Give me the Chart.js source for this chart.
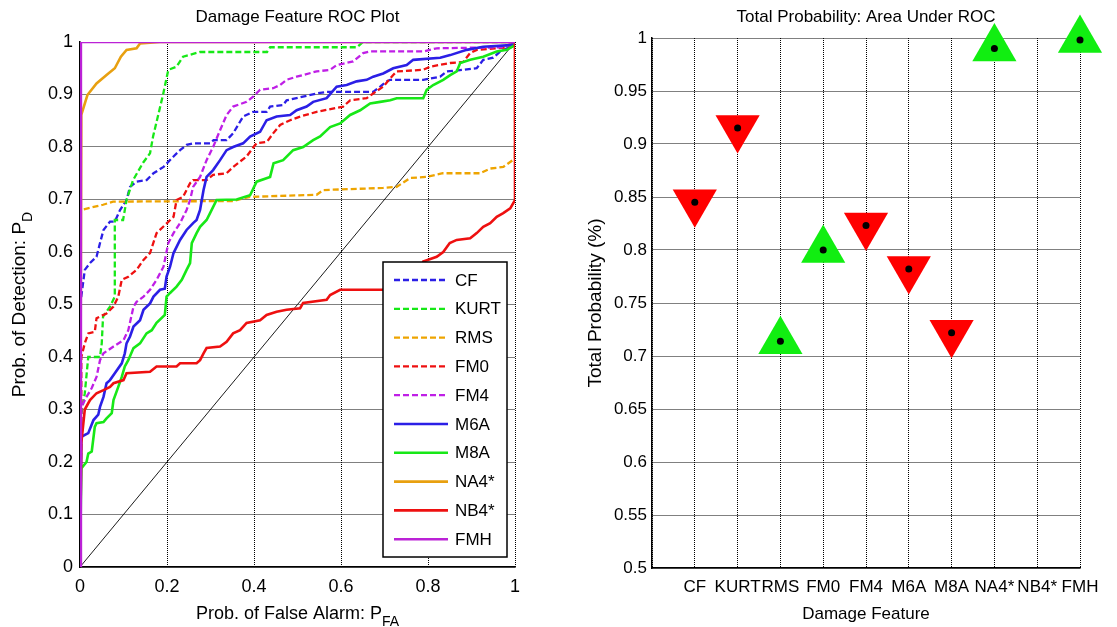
<!DOCTYPE html>
<html>
<head>
<meta charset="utf-8">
<script src="https://cdn.jsdelivr.net/npm/chart.js@4.4.0/dist/chart.umd.min.js"></script>
<style>
  html, body { margin: 0; padding: 0; background: #fff; }
  #wrap { position: relative; width: 1117px; height: 627px; overflow: hidden; }
  #rocChart { position: absolute; left: 0; top: 0; }
  #aucChart { position: absolute; left: 560px; top: 0; }
</style>
</head>
<body>
<div id="wrap">
  <canvas id="rocChart" width="560" height="627"></canvas>
  <canvas id="aucChart" width="557" height="627"></canvas>
</div>
<script>
const FONT = '"Liberation Sans", Arial, sans-serif';

// ---- ROC curves (false alarm, detection) ----
const rocNames = ['CF', 'KURT', 'RMS', 'FM0', 'FM4', 'M6A', 'M8A', 'NA4*', 'NB4*', 'FMH'];

const cfRoc = [[0,0],[0,0.496],[0.011,0.566],[0.023,0.579],[0.038,0.591],[0.046,0.617],[0.054,0.642],[0.069,0.658],[0.08,0.658],[0.092,0.68],[0.107,0.699],[0.115,0.724],[0.13,0.734],[0.153,0.737],[0.169,0.75],[0.192,0.762],[0.215,0.782],[0.23,0.794],[0.245,0.804],[0.26,0.807],[0.299,0.807],[0.307,0.813],[0.337,0.813],[0.352,0.826],[0.375,0.858],[0.398,0.867],[0.429,0.867],[0.437,0.877],[0.467,0.88],[0.475,0.889],[0.544,0.902],[0.567,0.905],[0.674,0.905],[0.69,0.915],[0.705,0.925],[0.713,0.928],[0.789,0.928],[0.828,0.934],[0.843,0.944],[0.881,0.947],[0.912,0.95],[0.927,0.966],[0.95,0.97],[0.966,0.982],[0.989,0.991],[1,1]];
const kurtRoc = [[0,0],[0.003,0.29],[0.011,0.331],[0.019,0.4],[0.046,0.4],[0.05,0.426],[0.053,0.477],[0.069,0.496],[0.08,0.515],[0.08,0.661],[0.099,0.661],[0.107,0.699],[0.122,0.737],[0.145,0.77],[0.161,0.788],[0.168,0.82],[0.191,0.9],[0.203,0.947],[0.222,0.953],[0.237,0.972],[0.276,0.981],[0.43,0.981],[0.437,0.99],[0.637,0.99],[0.65,1],[1,1]];
const rmsRoc = [[0,0],[0.002,0.68],[0.053,0.69],[0.076,0.696],[0.35,0.697],[0.391,0.705],[0.544,0.709],[0.559,0.718],[0.697,0.722],[0.728,0.724],[0.759,0.741],[0.797,0.743],[0.834,0.75],[0.92,0.75],[0.943,0.759],[0.973,0.762],[0.995,0.775],[1,0.78],[1,1]];
const fm0Roc = [[0,0],[0.003,0.33],[0.003,0.4],[0.011,0.426],[0.019,0.445],[0.034,0.448],[0.038,0.474],[0.061,0.483],[0.077,0.496],[0.088,0.515],[0.096,0.547],[0.111,0.553],[0.13,0.566],[0.146,0.585],[0.161,0.598],[0.176,0.636],[0.2,0.655],[0.215,0.667],[0.222,0.699],[0.237,0.705],[0.253,0.731],[0.26,0.737],[0.291,0.737],[0.306,0.747],[0.337,0.75],[0.352,0.762],[0.383,0.782],[0.399,0.8],[0.406,0.807],[0.43,0.81],[0.444,0.826],[0.46,0.842],[0.483,0.851],[0.506,0.858],[0.544,0.867],[0.605,0.877],[0.621,0.889],[0.659,0.893],[0.674,0.902],[0.697,0.915],[0.72,0.937],[0.728,0.944],[0.789,0.947],[0.805,0.953],[0.851,0.96],[0.881,0.962],[0.897,0.979],[0.912,0.985],[0.99,0.99],[1,1]];
const fm4Roc = [[0,0],[0.003,0.28],[0.003,0.305],[0.015,0.324],[0.027,0.341],[0.038,0.362],[0.046,0.394],[0.054,0.407],[0.077,0.42],[0.1,0.432],[0.111,0.451],[0.123,0.496],[0.13,0.505],[0.146,0.515],[0.161,0.528],[0.176,0.547],[0.192,0.572],[0.203,0.617],[0.215,0.636],[0.23,0.655],[0.245,0.68],[0.253,0.699],[0.26,0.724],[0.276,0.743],[0.291,0.775],[0.306,0.8],[0.322,0.832],[0.337,0.861],[0.352,0.877],[0.383,0.886],[0.398,0.896],[0.414,0.909],[0.444,0.912],[0.46,0.918],[0.475,0.928],[0.498,0.934],[0.544,0.944],[0.575,0.947],[0.59,0.956],[0.628,0.963],[0.651,0.979],[0.667,0.982],[0.789,0.982],[0.82,0.988],[0.97,0.99],[1,1]];
const m6aRoc = [[0,0],[0.003,0.248],[0.019,0.255],[0.031,0.28],[0.042,0.29],[0.046,0.305],[0.054,0.324],[0.061,0.35],[0.069,0.356],[0.08,0.369],[0.096,0.388],[0.103,0.407],[0.107,0.426],[0.115,0.439],[0.123,0.458],[0.138,0.47],[0.146,0.49],[0.161,0.502],[0.169,0.515],[0.184,0.528],[0.195,0.53],[0.199,0.553],[0.207,0.572],[0.215,0.598],[0.23,0.623],[0.245,0.642],[0.26,0.655],[0.268,0.661],[0.276,0.68],[0.28,0.699],[0.284,0.718],[0.291,0.743],[0.306,0.756],[0.322,0.775],[0.337,0.794],[0.352,0.8],[0.375,0.807],[0.391,0.82],[0.414,0.829],[0.429,0.851],[0.452,0.858],[0.483,0.861],[0.498,0.87],[0.521,0.877],[0.536,0.886],[0.567,0.893],[0.59,0.915],[0.613,0.918],[0.636,0.925],[0.659,0.928],[0.674,0.934],[0.697,0.94],[0.72,0.95],[0.751,0.956],[0.766,0.966],[0.828,0.97],[0.851,0.975],[0.889,0.985],[0.927,0.991],[0.99,0.994],[1,1]];
const m8aRoc = [[0,0],[0.003,0.188],[0.015,0.2],[0.019,0.216],[0.027,0.22],[0.034,0.267],[0.038,0.274],[0.054,0.276],[0.061,0.283],[0.073,0.293],[0.077,0.318],[0.088,0.343],[0.096,0.362],[0.103,0.382],[0.111,0.394],[0.123,0.417],[0.138,0.426],[0.153,0.445],[0.165,0.451],[0.176,0.465],[0.195,0.48],[0.199,0.515],[0.207,0.522],[0.222,0.534],[0.234,0.547],[0.245,0.566],[0.253,0.579],[0.257,0.617],[0.268,0.636],[0.276,0.648],[0.291,0.661],[0.299,0.674],[0.314,0.699],[0.36,0.7],[0.391,0.708],[0.406,0.734],[0.437,0.743],[0.445,0.769],[0.467,0.775],[0.49,0.794],[0.513,0.8],[0.536,0.813],[0.552,0.82],[0.575,0.838],[0.598,0.845],[0.621,0.861],[0.644,0.87],[0.667,0.883],[0.69,0.886],[0.713,0.889],[0.728,0.893],[0.789,0.893],[0.797,0.909],[0.812,0.918],[0.835,0.928],[0.851,0.937],[0.866,0.944],[0.874,0.96],[0.897,0.966],[0.927,0.972],[0.958,0.982],[0.981,0.985],[1,0.994],[1,1]];
const na4Roc = [[0,0],[0.003,0.861],[0.017,0.899],[0.038,0.921],[0.061,0.937],[0.08,0.95],[0.094,0.972],[0.107,0.985],[0.13,0.988],[0.138,0.997],[0.184,1],[1,1]];
const nb4Roc = [[0,0],[0.003,0.236],[0.011,0.3],[0.023,0.318],[0.038,0.331],[0.054,0.337],[0.069,0.343],[0.077,0.35],[0.1,0.356],[0.107,0.369],[0.161,0.372],[0.176,0.382],[0.222,0.382],[0.23,0.388],[0.268,0.388],[0.276,0.394],[0.284,0.407],[0.291,0.417],[0.322,0.42],[0.337,0.429],[0.352,0.445],[0.368,0.451],[0.383,0.465],[0.414,0.47],[0.429,0.48],[0.452,0.486],[0.475,0.49],[0.506,0.493],[0.513,0.503],[0.567,0.509],[0.575,0.518],[0.598,0.528],[0.77,0.528],[0.789,0.582],[0.82,0.591],[0.835,0.6],[0.85,0.617],[0.866,0.623],[0.897,0.626],[0.912,0.636],[0.927,0.648],[0.943,0.655],[0.958,0.667],[0.973,0.674],[0.989,0.683],[1,0.699],[1,1]];
const fmhRoc = [[0,0],[0.002,0],[0.002,1],[1,1]];
const chanceLine = [[0,0],[1,1]];

const rocCurves = [cfRoc, kurtRoc, rmsRoc, fm0Roc, fm4Roc, m6aRoc, m8aRoc, na4Roc, nb4Roc, fmhRoc];
const rocColors = ['#2b1fe6', '#17e817', '#eea400', '#ee1010', '#bf1fe6', '#2b1fe6', '#17e817', '#e8a010', '#ee1010', '#bb22d6'];
const rocDashed = [true, true, true, true, true, false, false, false, false, false];

const rocTicksX = [0, 0.2, 0.4, 0.6, 0.8, 1];
const rocTicksY = [0, 0.1, 0.2, 0.3, 0.4, 0.5, 0.6, 0.7, 0.8, 0.9, 1];

// ---- area under ROC per feature (right plot) ----
const featureNames = ['CF', 'KURT', 'RMS', 'FM0', 'FM4', 'M6A', 'M8A', 'NA4*', 'NB4*', 'FMH'];
const aucValues = [0.845, 0.915, 0.714, 0.8, 0.823, 0.782, 0.722, 0.99, null, 0.998];
const aucMarker = ['down', 'down', 'up', 'up', 'down', 'down', 'down', 'up', null, 'up'];
const aucTicksY = [0.5, 0.55, 0.6, 0.65, 0.7, 0.75, 0.8, 0.85, 0.9, 0.95, 1];

function toPoints(pairs) {
  return pairs.map(p => ({ x: p[0], y: p[1] }));
}

function drawText(ctx, main, sub, size, subSize, cx, cy, vertical) {
  ctx.save();
  ctx.translate(cx, cy);
  if (vertical) ctx.rotate(-Math.PI / 2);
  ctx.fillStyle = '#000';
  ctx.textAlign = 'left';
  ctx.textBaseline = 'alphabetic';
  ctx.font = size + 'px ' + FONT;
  const w1 = ctx.measureText(main).width;
  ctx.font = subSize + 'px ' + FONT;
  const w2 = sub ? ctx.measureText(sub).width : 0;
  const x0 = -(w1 + w2) / 2;
  ctx.font = size + 'px ' + FONT;
  ctx.fillText(main, x0, 0);
  if (sub) {
    ctx.font = subSize + 'px ' + FONT;
    ctx.fillText(sub, x0 + w1, subSize * 0.5);
  }
  ctx.restore();
}

const gridStyle = { color: '#000', lineWidth: 1, drawTicks: false };
const borderStyle = { color: '#000', width: 1.5, dash: [1, 1] };

// labels, titles and in-plot legend for the ROC chart
const rocDecor = {
  id: 'rocDecor',
  afterDraw(chart) {
    const ctx = chart.ctx;
    const a = chart.chartArea;
    const cx = (a.left + a.right) / 2;
    drawText(ctx, 'Damage Feature ROC Plot', '', 17, 13, cx, 22, false);
    drawText(ctx, 'Prob. of False Alarm: P', 'FA', 18, 14, cx, 619, false);
    drawText(ctx, 'Prob. of Detection: P', 'D', 19, 14, 25, (a.top + a.bottom) / 2, true);

    // legend box
    const w = 124, h = 295;
    const left = a.right - 8 - w, top = a.bottom - 10 - h;
    ctx.save();
    ctx.fillStyle = '#fff';
    ctx.fillRect(left, top, w, h);
    ctx.strokeStyle = '#000';
    ctx.lineWidth = 1.5;
    ctx.strokeRect(left, top, w, h);
    ctx.font = '17px ' + FONT;
    ctx.textBaseline = 'middle';
    ctx.textAlign = 'left';
    rocNames.forEach((name, i) => {
      const ds = chart.data.datasets[i];
      const y = top + 18 + i * 28.8;
      ctx.beginPath();
      ctx.strokeStyle = ds.borderColor;
      ctx.lineWidth = ds.borderWidth;
      ctx.setLineDash(ds.borderDash || []);
      ctx.moveTo(left + 11, y);
      ctx.lineTo(left + 65, y);
      ctx.stroke();
      ctx.setLineDash([]);
      ctx.fillStyle = '#000';
      ctx.fillText(name, left + 72, y + 1);
    });
    ctx.restore();
  }
};

const rocDatasets = rocCurves.map((curve, i) => ({
  label: rocNames[i],
  data: toPoints(curve),
  borderColor: rocColors[i],
  borderWidth: rocDashed[i] ? 2.3 : 2.6,
  borderDash: rocDashed[i] ? [6, 3] : [],
  pointRadius: 0,
  tension: 0,
  order: rocCurves.length - i
}));
rocDatasets.push({
  label: 'chance',
  data: toPoints(chanceLine),
  borderColor: '#000',
  borderWidth: 0.9,
  pointRadius: 0,
  order: 50
});

new Chart(document.getElementById('rocChart'), {
  type: 'line',
  data: { datasets: rocDatasets },
  options: {
    responsive: false,
    animation: false,
    devicePixelRatio: 1,
    layout: { padding: { left: 0, top: 42, right: 45, bottom: 0 } },
    plugins: { legend: { display: false }, title: { display: false }, tooltip: { enabled: false } },
    scales: {
      x: {
        type: 'linear', min: 0, max: 1,
        afterBuildTicks: s => { s.ticks = rocTicksX.map(v => ({ value: v })); },
        afterFit: s => { s.height = 60; },
        grid: gridStyle,
        border: borderStyle,
        ticks: { color: '#000', font: { family: FONT, size: 18 }, padding: 9, maxRotation: 0,
                 callback: v => String(+v.toFixed(1)) }
      },
      y: {
        type: 'linear', min: 0, max: 1,
        afterBuildTicks: s => { s.ticks = rocTicksY.map(v => ({ value: v })); },
        afterFit: s => { s.width = 80; },
        grid: gridStyle,
        border: borderStyle,
        ticks: { color: '#000', font: { family: FONT, size: 18 }, padding: 7,
                 callback: v => String(+v.toFixed(1)) }
      }
    }
  },
  plugins: [rocDecor]
});

// ---- right chart ----
const upPoints = [], downPoints = [], dotPoints = [];
featureNames.forEach((name, i) => {
  if (aucValues[i] === null) return;
  const p = { x: i + 1, y: aucValues[i] };
  dotPoints.push(p);
  if (aucMarker[i] === 'up') upPoints.push(p); else downPoints.push(p);
});

const aucDecor = {
  id: 'aucDecor',
  afterDraw(chart) {
    const ctx = chart.ctx;
    const a = chart.chartArea;
    const cx = (a.left + a.right) / 2;
    drawText(ctx, 'Total Probability: Area Under ROC', '', 17, 13, cx, 22, false);
    drawText(ctx, 'Damage Feature', '', 17, 13, cx, 619, false);
    drawText(ctx, 'Total Probability (%)', '', 19, 14, 41, (a.top + a.bottom) / 2, true);
  }
};

new Chart(document.getElementById('aucChart'), {
  type: 'scatter',
  data: {
    datasets: [
      { label: 'AUC', data: dotPoints, pointRadius: 3.5, pointBackgroundColor: '#000', pointBorderWidth: 0, clip: false, order: 0 },
      { label: 'up', data: upPoints, pointStyle: 'triangle', pointRadius: 25.5, pointBackgroundColor: '#11ee11', pointBorderWidth: 0, clip: false, order: 1 },
      { label: 'down', data: downPoints, pointStyle: 'triangle', pointRotation: 180, pointRadius: 25.5, pointBackgroundColor: '#ff0000', pointBorderWidth: 0, clip: false, order: 2 }
    ]
  },
  options: {
    responsive: false,
    animation: false,
    devicePixelRatio: 1,
    layout: { padding: { left: 0, top: 38, right: 37, bottom: 0 } },
    plugins: { legend: { display: false }, title: { display: false }, tooltip: { enabled: false } },
    scales: {
      x: {
        type: 'linear', min: 0, max: featureNames.length,
        afterBuildTicks: s => { s.ticks = [0].concat(featureNames.map((n, i) => i + 1)).map(v => ({ value: v })); },
        afterFit: s => { s.height = 59; },
        grid: gridStyle,
        border: borderStyle,
        ticks: { color: '#000', font: { family: FONT, size: 17 }, padding: 9, maxRotation: 0, autoSkip: false,
                 callback: v => (v >= 1 ? featureNames[v - 1] : '') }
      },
      y: {
        type: 'linear', min: 0.5, max: 1,
        afterBuildTicks: s => { s.ticks = aucTicksY.map(v => ({ value: v })); },
        afterFit: s => { s.width = 92; },
        grid: gridStyle,
        border: borderStyle,
        ticks: { color: '#000', font: { family: FONT, size: 17 }, padding: 5,
                 callback: v => String(+v.toFixed(2)) }
      }
    }
  },
  plugins: [aucDecor]
});
</script>
</body>
</html>
